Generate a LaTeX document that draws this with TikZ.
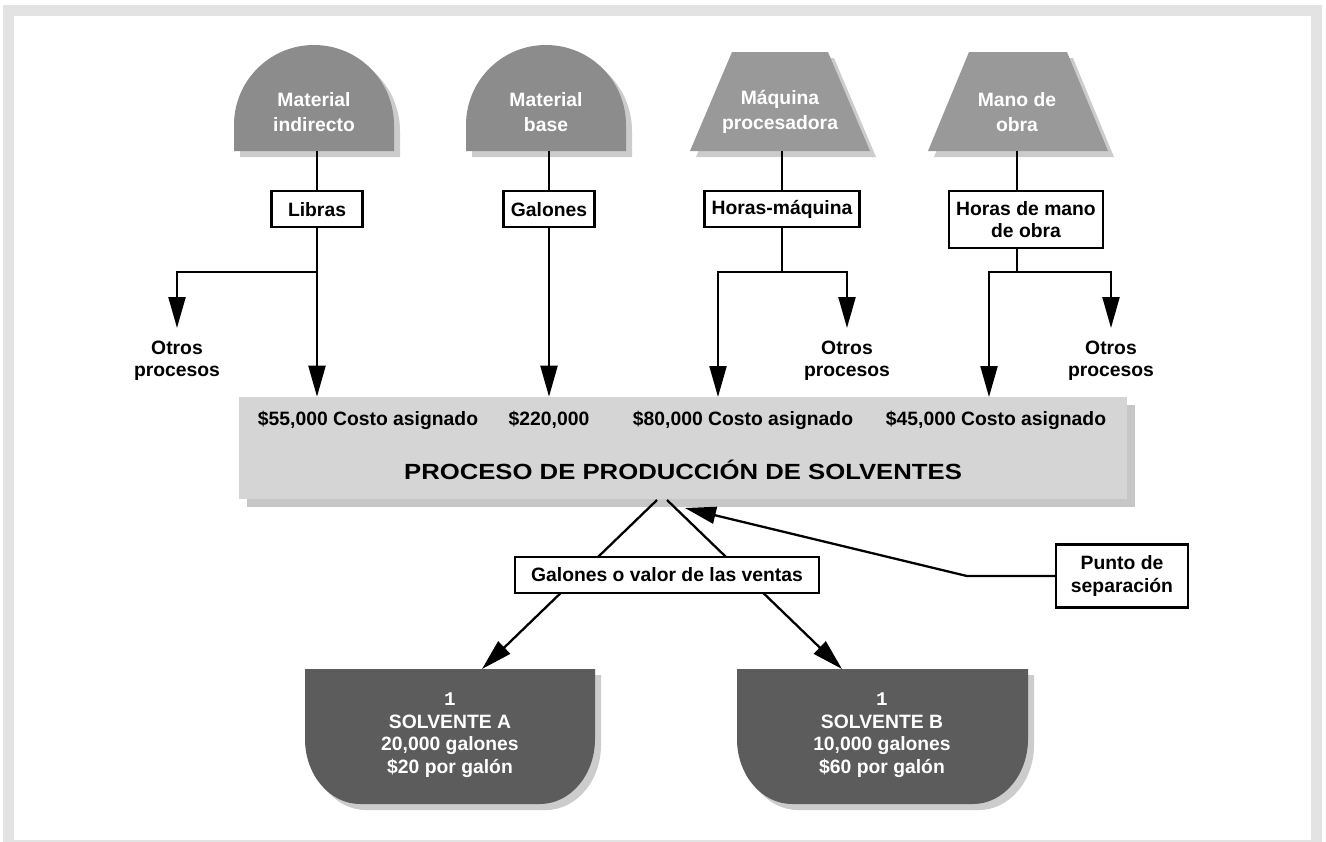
\documentclass[tikz,border=0pt]{standalone}
\usepackage{fontspec}
\setmainfont{Liberation Sans}
\setmonofont{Liberation Mono}
\newfontfamily\anchafont[FakeStretch=1.17]{Liberation Sans}
\usetikzlibrary{positioning, arrows.meta, calc, shadows}
\usepackage{xcolor}

\definecolor{marco}{gray}{0.89}
\definecolor{cupula}{gray}{0.55}
\definecolor{trapecio}{gray}{0.6}
\definecolor{gsombra}{gray}{0.8}
\definecolor{proceso}{gray}{0.835}
\definecolor{psombra}{gray}{0.78}
\definecolor{solvente}{gray}{0.36}

\newcommand{\letra}{\fontsize{11}{12.8}\selectfont\bfseries}

\tikzset{
  caja/.style={draw, line width=1.3pt, fill=white, font=\letra, align=center,
    minimum width=1.82cm, minimum height=0.72cm, inner xsep=4pt},
  linea/.style={line width=1.3pt},
  flecha/.style={line width=1.3pt, -{Triangle[length=0.62cm, width=0.34cm]}},
  otros/.style={font=\letra, align=center, anchor=north, inner xsep=0pt, inner ysep=7pt},
  blanco/.style={text=white, align=center, font=\letra},
  costo/.style={font=\letra},
  sombra/.style={drop shadow={shadow xshift=0.12cm, shadow yshift=-0.12cm, fill=gsombra, opacity=1}}
}

\begin{document}
\begin{tikzpicture}[x=0.02cm, y=-0.02cm]
  \useasboundingbox (0,0) rectangle (1326,842);
  % Marco
  \fill[marco] (3,5) rectangle (1322,842);
  \fill[white] (14,16) rectangle (1311,840);
  \coordinate (base) at (0,151);
  \coordinate (cruce) at (0,272);

  % Recursos (formas superiores)
  \foreach \cx in {314,546}
    \fill[cupula, sombra] (\cx-80,151) -- (\cx-80,125) arc (180:360:80) -- (\cx+80,151) -- cycle;
  \fill[trapecio, sombra] (732,52) -- (828,52) -- (870,151) -- (690,151) -- cycle;
  \fill[trapecio, sombra] (969,52) -- (1067,52) -- (1108,151) -- (928,151) -- cycle;
  \node[blanco, font=\fontsize{11}{14}\selectfont\bfseries] (mi) at (314,112) {Material\\indirecto};
  \node[blanco, font=\fontsize{11}{14}\selectfont\bfseries] (mb) at (546,112) {Material\\base};
  \node[blanco, font=\fontsize{11}{14}\selectfont\bfseries] (mq) at (780,112) {Máquina\\procesadora};
  \node[blanco, font=\fontsize{11}{14}\selectfont\bfseries] (mo) at (1017,112) {Mano de\\obra};

  % Bases de asignacion
  \node[caja, anchor=north] (lib) at (317,190) {Libras};
  \node[caja, anchor=north] (gal) at (549,190) {Galones};
  \node[caja, anchor=north] (hm) at (782,190) {Horas-máquina};
  \node[caja, anchor=north, minimum height=1.14cm] (hmo) at (1026,190) {Horas de mano\\de obra};
  \draw[linea] (lib.north |- base) -- (lib.north);
  \draw[linea] (gal.north |- base) -- (gal.north);
  \draw[linea] (hm.north |- base) -- (hm.north);
  \draw[linea] (mo |- base) -- (mo |- hmo.north);

  % Proceso conjunto
  \node[fill=proceso, minimum width=17.76cm, minimum height=2.04cm,
    drop shadow={shadow xshift=0.16cm, shadow yshift=-0.16cm, fill=psombra, opacity=1}] (proc) at (683,448) {};
  \node[costo] (c1) at (368,420) {\$55,000 Costo asignado};
  \node[costo] (c2) at (549,420) {\$220,000};
  \node[costo] (c3) at (743,420) {\$80,000 Costo asignado};
  \node[costo] (c4) at (996,420) {\$45,000 Costo asignado};
  \node[font=\anchafont\fontsize{12.5}{14}\selectfont\bfseries] (tit) at (683,470) {PROCESO DE PRODUCCIÓN DE SOLVENTES};

  % Otros procesos
  \node[otros] (o1) at (177,328) {Otros\\procesos};
  \node[otros] (o2) at (847,328) {Otros\\procesos};
  \node[otros] (o3) at (1111,328) {Otros\\procesos};
  \coordinate (e3) at (718,397);
  \coordinate (e4) at (989,397);

  % Flechas hacia el proceso
  \draw[flecha] (lib.south) -- (lib.south |- proc.north);
  \draw[flecha] (lib.south |- cruce) -| (o1.north);
  \draw[flecha] (gal.south) -- (gal.south |- proc.north);
  \draw[linea] (hm.south) -- (hm.south |- cruce);
  \draw[flecha] (hm.south |- cruce) -| (o2.north);
  \draw[flecha] (hm.south |- cruce) -| (e3);
  \draw[linea] (mo |- hmo.south) -- (mo |- cruce);
  \draw[flecha] (mo |- cruce) -| (o3.north);
  \draw[flecha] (mo |- cruce) -| (e4);

  % Productos
  \fill[solvente, sombra] (305,669) -- (595,669) -- (595,739)
    arc[start angle=0, end angle=90, x radius=55, y radius=65] -- (360,804)
    arc[start angle=90, end angle=180, x radius=55, y radius=65] -- cycle;
  \fill[solvente, sombra] (737,669) -- (1028,669) -- (1028,739)
    arc[start angle=0, end angle=90, x radius=55, y radius=65] -- (792,804)
    arc[start angle=90, end angle=180, x radius=55, y radius=65] -- cycle;
  \node[blanco] (sa) at (450,735) {{\ttfamily 1}\\SOLVENTE A\\20,000 galones\\\$20 por galón};
  \node[blanco] (sb) at (882,735) {{\ttfamily 1}\\SOLVENTE B\\10,000 galones\\\$60 por galón};

  % Punto de separacion
  \coordinate (sepL) at (657,500);
  \coordinate (sepR) at (667,500);
  \coordinate (llegA) at (482,669);
  \coordinate (llegB) at (842,669);
  \draw[flecha] (sepL) -- (llegA);
  \draw[flecha] (sepR) -- (llegB);
  \node[caja, minimum width=6.08cm] (gv) at (667,575) {Galones o valor de las ventas};
  \node[caja, minimum width=2.64cm, minimum height=1.26cm] (ps) at (1122,576) {Punto de\\separación};
  \coordinate (pt) at (685,508);
  \draw[flecha] (ps.west) -- ++(-88,0) -- (pt);
\end{tikzpicture}
\end{document}
